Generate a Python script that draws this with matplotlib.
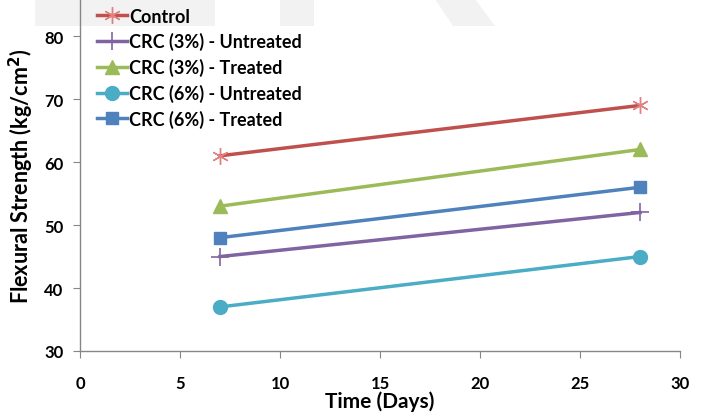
import matplotlib
matplotlib.use("Agg")
import matplotlib.pyplot as plt
from matplotlib.patches import Rectangle, Polygon

days = [7, 28]
series_names = ["Control", "CRC (3%) - Untreated", "CRC (3%) - Treated",
                "CRC (6%) - Untreated", "CRC (6%) - Treated"]
control = [61, 69]
crc3_untreated = [45, 52]
crc3_treated = [53, 62]
crc6_untreated = [37, 45]
crc6_treated = [48, 56]
x_ticks = [0, 5, 10, 15, 20, 25, 30]
y_ticks = [30, 40, 50, 60, 70, 80]

plt.rcParams['font.family'] = ['Lato', 'DejaVu Sans']

fig = plt.figure(figsize=(7.04, 4.14), dpi=100)
W, H = 704, 414

# light watermark patches at top
wm = '#f2f2f2'
fig.add_artist(Rectangle((35 / W, 1 - 27 / H), 180 / W, 27 / H, transform=fig.transFigure,
                         facecolor=wm, edgecolor='none', zorder=0))
fig.add_artist(Rectangle((280 / W, 1 - 27 / H), 34 / W, 27 / H, transform=fig.transFigure,
                         facecolor=wm, edgecolor='none', zorder=0))
fig.add_artist(Polygon([(435 / W, 1), (475 / W, 1), (495 / W, 1 - 27 / H), (453 / W, 1 - 27 / H)],
                       closed=True, transform=fig.transFigure, facecolor=wm, edgecolor='none', zorder=0))

ax = fig.add_axes([80 / W, 1 - 352 / H, 600 / W, 352 / H])
ax.patch.set_alpha(0)

styles = [
    (control, '#C0504D', dict(marker=(6, 2, 0), markersize=12, markeredgewidth=1.0,
                              markeredgecolor='#E08080')),
    (crc3_untreated, '#8064A2', dict(marker='+', markersize=13, markeredgewidth=1.2)),
    (crc3_treated, '#9BBB59', dict(marker='^', markersize=10)),
    (crc6_untreated, '#4BACC6', dict(marker='o', markersize=10)),
    (crc6_treated, '#4F81BD', dict(marker='s', markersize=9)),
]
for name, (vals, col, mk) in zip(series_names, styles):
    ax.plot(days, vals, color=col, linewidth=2.5, label=name, **mk)

ax.set_xlim(0, 30)
ax.set_ylim(30, 85.9)
ax.set_xticks(x_ticks)
ax.set_yticks(y_ticks)
for s in ['top', 'right']:
    ax.spines[s].set_visible(False)
for s in ['left', 'bottom']:
    ax.spines[s].set_color('#868686')
    ax.spines[s].set_linewidth(1.0)
ax.tick_params(axis='x', direction='out', length=5, color='#868686', pad=12, labelsize=12)
ax.tick_params(axis='y', direction='out', length=5, color='#868686', pad=7, labelsize=12)
for lab in ax.get_xticklabels() + ax.get_yticklabels():
    lab.set_fontweight('bold')

ax.set_xlabel('Time (Days)', fontsize=15, fontweight='bold', labelpad=0)
ax.set_ylabel('Flexural Strength (kg/cm$^\\mathbf{2}$)', fontsize=15.5, fontweight='bold', labelpad=6)

leg = ax.legend(loc='upper left', bbox_to_anchor=(0.028, 0.975), frameon=False,
                prop={'weight': 'bold', 'size': 13}, handlelength=1.65, handletextpad=0.12,
                labelspacing=0.42, borderaxespad=0, borderpad=0)

fig.savefig('out.png', dpi=100)
